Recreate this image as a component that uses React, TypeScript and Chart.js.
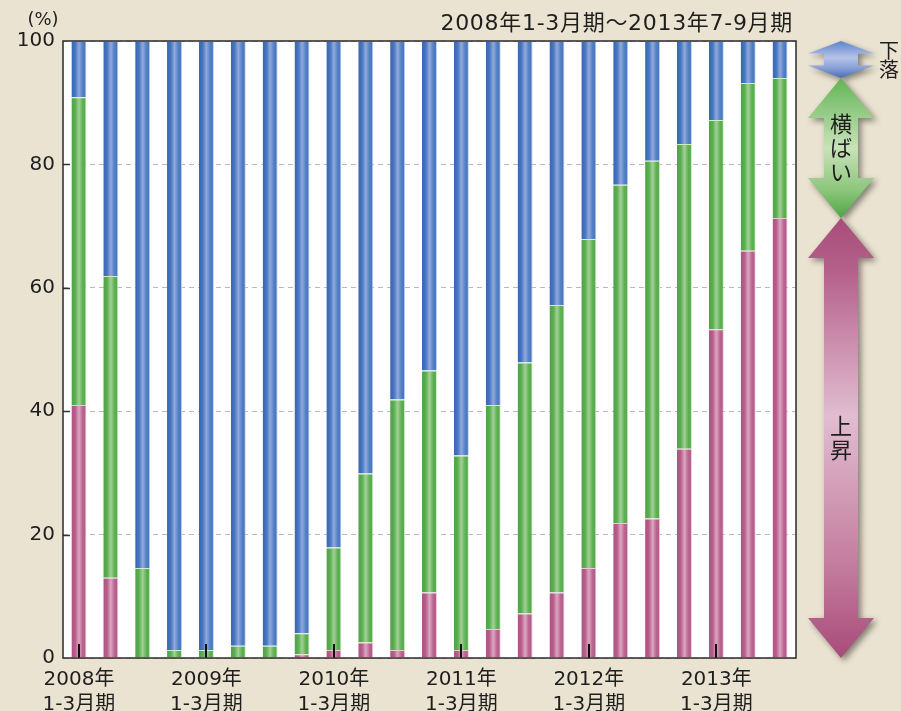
import React, { useEffect, useRef } from 'react';
import { Chart, registerables } from 'chart.js';

Chart.register(...registerables);

// ---- data ----
const CATEGORIES = [
  '2008年1-3月期', '2008年4-6月期', '2008年7-9月期', '2008年10-12月期',
  '2009年1-3月期', '2009年4-6月期', '2009年7-9月期', '2009年10-12月期',
  '2010年1-3月期', '2010年4-6月期', '2010年7-9月期', '2010年10-12月期',
  '2011年1-3月期', '2011年4-6月期', '2011年7-9月期', '2011年10-12月期',
  '2012年1-3月期', '2012年4-6月期', '2012年7-9月期', '2012年10-12月期',
  '2013年1-3月期', '2013年4-6月期', '2013年7-9月期',
];

// 上昇 (rise)
const UP = [41.0, 13.0, 0, 0, 0, 0, 0, 0.6, 1.3, 2.5, 1.3, 10.6, 1.3, 4.7, 7.2, 10.6, 14.6, 21.9, 22.6, 33.9, 53.3, 66.0, 71.3];
// 横ばい (flat)
const FLAT = [49.9, 48.9, 14.6, 1.3, 1.3, 2.0, 2.0, 3.4, 16.6, 27.4, 40.6, 36.0, 31.5, 36.3, 40.7, 46.6, 53.3, 54.8, 58.0, 49.4, 33.9, 27.2, 22.7];
// 下落 (fall)
const DOWN = [9.1, 38.1, 85.4, 98.7, 98.7, 98.0, 98.0, 96.0, 82.1, 70.1, 58.1, 53.4, 67.2, 59.0, 52.1, 42.8, 32.1, 23.3, 19.4, 16.7, 12.8, 6.8, 6.0];

const SERIES_NAMES = ['上昇', '横ばい', '下落'];
const Y_TICKS = [0, 20, 40, 60, 80, 100];
const TICK_YEARS = ['2008年', '2009年', '2010年', '2011年', '2012年', '2013年'];
const TICK_PERIOD = '1-3月期';
const TITLE = '2008年1-3月期～2013年7-9月期';
const UNIT = '(%)';

// ---- style ----
const FONT = '"DejaVu Sans", "Noto Sans CJK JP", sans-serif';
const JP_FONT = '"Noto Sans CJK JP", sans-serif';
const BG = '#ebe3d1';
const BAR_PCT = 0.47;

const BLUE_STOPS = ['#3765b3', '#4675c1', '#91a9dc', '#5381c6', '#4270bc'];
const GREEN_STOPS = ['#4ca346', '#5aae50', '#a3d096', '#5db153', '#52a94a'];
const PINK_STOPS = ['#ae5381', '#b75d8a', '#dba7c1', '#bb6490', '#b15884'];

function barFill(stops: string[]) {
  return (ctx: any) => {
    const chart = ctx.chart;
    const xs = chart.scales && chart.scales.x;
    if (!xs || ctx.dataIndex === undefined || !chart.chartArea) return stops[0];
    const center = xs.getPixelForValue(ctx.dataIndex);
    const half = ((xs.right - xs.left) / CATEGORIES.length) * BAR_PCT / 2;
    const g = chart.ctx.createLinearGradient(center - half, 0, center + half, 0);
    stops.forEach((c, i) => g.addColorStop(i / (stops.length - 1), c));
    return g;
  };
}

function drawVerticalText(c: CanvasRenderingContext2D, text: string, x: number, yCenter: number, pitch: number) {
  const chars = Array.from(text);
  const start = yCenter - (pitch * (chars.length - 1)) / 2;
  chars.forEach((ch, i) => c.fillText(ch, x, start + i * pitch));
}

const decorPlugin = {
  id: 'decor',
  beforeDraw(chart: any) {
    const c = chart.ctx as CanvasRenderingContext2D;
    const a = chart.chartArea;
    c.save();
    c.fillStyle = BG;
    c.fillRect(0, 0, chart.width, chart.height);
    c.fillStyle = '#ffffff';
    c.fillRect(a.left, a.top, a.right - a.left, a.bottom - a.top);
    c.restore();
  },
  afterDatasetsDraw(chart: any) {
    const c = chart.ctx as CanvasRenderingContext2D;
    const a = chart.chartArea;
    const xs = chart.scales.x;
    const ys = chart.scales.y;
    c.save();
    // inward x ticks at each year's first quarter
    c.strokeStyle = '#111';
    c.lineWidth = 2;
    CATEGORIES.forEach((cat, i) => {
      if (!cat.endsWith('年1-3月期')) return;
      const x = Math.round(xs.getPixelForValue(i));
      c.beginPath();
      c.moveTo(x, a.bottom);
      c.lineTo(x, a.bottom - 14);
      c.stroke();
    });
    // inward y ticks
    c.strokeStyle = '#333';
    c.lineWidth = 1.5;
    Y_TICKS.forEach((v) => {
      if (v === 0 || v === 100) return;
      const y = Math.round(ys.getPixelForValue(v)) + 0.5;
      c.beginPath();
      c.moveTo(a.left, y);
      c.lineTo(a.left + 7, y);
      c.stroke();
    });
    // plot border
    c.strokeStyle = '#2a2a2a';
    c.lineWidth = 1.5;
    c.strokeRect(a.left, a.top, a.right - a.left, a.bottom - a.top);
    c.restore();
  },
  afterDraw(chart: any) {
    const c = chart.ctx as CanvasRenderingContext2D;
    const a = chart.chartArea;
    const ys = chart.scales.y;
    const last = CATEGORIES.length - 1;
    const upTop = UP[last];
    const flatTop = UP[last] + FLAT[last];
    const cx = a.right + 45;
    const headHalf = 33;
    const shaftHalf = 17;

    const arrows = [
      { from: flatTop, to: 100, stops: [[0, '#5b84cd'], [0.45, '#b6c2e8'], [0.7, '#8ea5d9'], [1, '#4a6db7']], label: SERIES_NAMES[2], inside: false },
      { from: upTop, to: flatTop, stops: [[0, '#62b455'], [0.5, '#c8e2b9'], [0.8, '#8cc67c'], [1, '#4fa545']], label: SERIES_NAMES[1], inside: true },
      { from: 0, to: upTop, stops: [[0, '#a84c7a'], [0.12, '#b5608b'], [0.45, '#e1bdd0'], [0.8, '#c27a9c'], [1, '#a84b79']], label: SERIES_NAMES[0], inside: true },
    ];

    c.save();
    arrows.forEach((ar) => {
      const y1 = ys.getPixelForValue(ar.to);
      const y2 = ys.getPixelForValue(ar.from);
      const h = y2 - y1;
      const hh = Math.min(40, h * 0.34);
      c.save();
      c.beginPath();
      c.moveTo(cx, y1);
      c.lineTo(cx + headHalf, y1 + hh);
      c.lineTo(cx + shaftHalf, y1 + hh);
      c.lineTo(cx + shaftHalf, y2 - hh);
      c.lineTo(cx + headHalf, y2 - hh);
      c.lineTo(cx, y2);
      c.lineTo(cx - headHalf, y2 - hh);
      c.lineTo(cx - shaftHalf, y2 - hh);
      c.lineTo(cx - shaftHalf, y1 + hh);
      c.lineTo(cx - headHalf, y1 + hh);
      c.closePath();
      const g = c.createLinearGradient(0, y1, 0, y2);
      ar.stops.forEach((s: any) => g.addColorStop(s[0], s[1]));
      c.fillStyle = g;
      c.shadowColor = 'rgba(0,0,0,0.45)';
      c.shadowBlur = 6;
      c.shadowOffsetX = 3;
      c.shadowOffsetY = 3;
      c.fill();
      c.restore();

      c.fillStyle = '#1e1e1e';
      c.textAlign = 'center';
      c.textBaseline = 'middle';
      if (ar.inside) {
        c.font = `22px ${JP_FONT}`;
        drawVerticalText(c, ar.label, cx, (y1 + y2) / 2, 24);
      } else {
        c.font = `20px ${JP_FONT}`;
        drawVerticalText(c, ar.label, cx + 48, (y1 + y2) / 2, 19);
      }
    });

    // title and unit
    c.fillStyle = '#1e1e1e';
    c.textBaseline = 'middle';
    c.textAlign = 'right';
    c.font = `22px ${FONT}`;
    (c as any).letterSpacing = '0.7px';
    c.fillText(TITLE, a.right - 3, 24);
    (c as any).letterSpacing = '0px';
    c.textAlign = 'center';
    c.font = `18px ${FONT}`;
    c.fillText(UNIT, 43, 20);
    c.restore();
  },
};

export default function App() {
  const ref = useRef<HTMLCanvasElement | null>(null);

  useEffect(() => {
    document.body.style.margin = '0';
    document.body.style.background = BG;
    const canvas = ref.current;
    if (!canvas) return;

    const common = {
      barPercentage: BAR_PCT,
      categoryPercentage: 1,
      borderSkipped: 'start',
      borderWidth: { top: 1, right: 1, left: 0, bottom: 0 },
    };

    const chart = new Chart(canvas, {
      type: 'bar',
      data: {
        labels: CATEGORIES,
        datasets: [
          { label: SERIES_NAMES[0], data: UP, backgroundColor: barFill(PINK_STOPS), borderColor: '#ecc8d8', ...common },
          { label: SERIES_NAMES[1], data: FLAT, backgroundColor: barFill(GREEN_STOPS), borderColor: '#d2ebc8', ...common },
          { label: SERIES_NAMES[2], data: DOWN, backgroundColor: barFill(BLUE_STOPS), borderColor: '#bdd0ee', ...common },
        ] as any,
      },
      options: {
        animation: false,
        responsive: false,
        maintainAspectRatio: false,
        events: [],
        layout: { padding: { left: 0, top: 41, right: 105, bottom: 0 } },
        plugins: {
          legend: { display: false },
          tooltip: { enabled: false },
          title: { display: false },
        },
        scales: {
          x: {
            stacked: true,
            grid: { display: false, drawTicks: false },
            border: { display: false },
            ticks: {
              autoSkip: false,
              maxRotation: 0,
              minRotation: 0,
              padding: 9,
              color: '#1e1e1e',
              font: { family: FONT, size: 20, lineHeight: 1.25 },
              callback: (_v: any, i: number) => {
                const cat = CATEGORIES[i];
                if (!cat.endsWith('年1-3月期')) return '';
                const yr = TICK_YEARS.find((y) => cat.startsWith(y));
                return [yr || '', TICK_PERIOD];
              },
            },
            afterFit: (s: any) => { s.height = 53; },
          },
          y: {
            stacked: true,
            min: 0,
            max: 100,
            afterBuildTicks: (s: any) => { s.ticks = Y_TICKS.map((v) => ({ value: v })); },
            grid: { color: '#b9b9b9', lineWidth: 1, drawTicks: false },
            border: { display: false, dash: [5, 4] },
            ticks: {
              padding: 8,
              color: '#1e1e1e',
              font: { family: FONT, size: 20 },
            },
            afterFit: (s: any) => { s.width = 63; },
          },
        },
      } as any,
      plugins: [decorPlugin],
    });

    return () => chart.destroy();
  }, []);

  return (
    <div style={{ width: 901, height: 711, background: BG }}>
      <canvas ref={ref} width={901} height={711} style={{ display: 'block', width: 901, height: 711 }} />
    </div>
  );
}
